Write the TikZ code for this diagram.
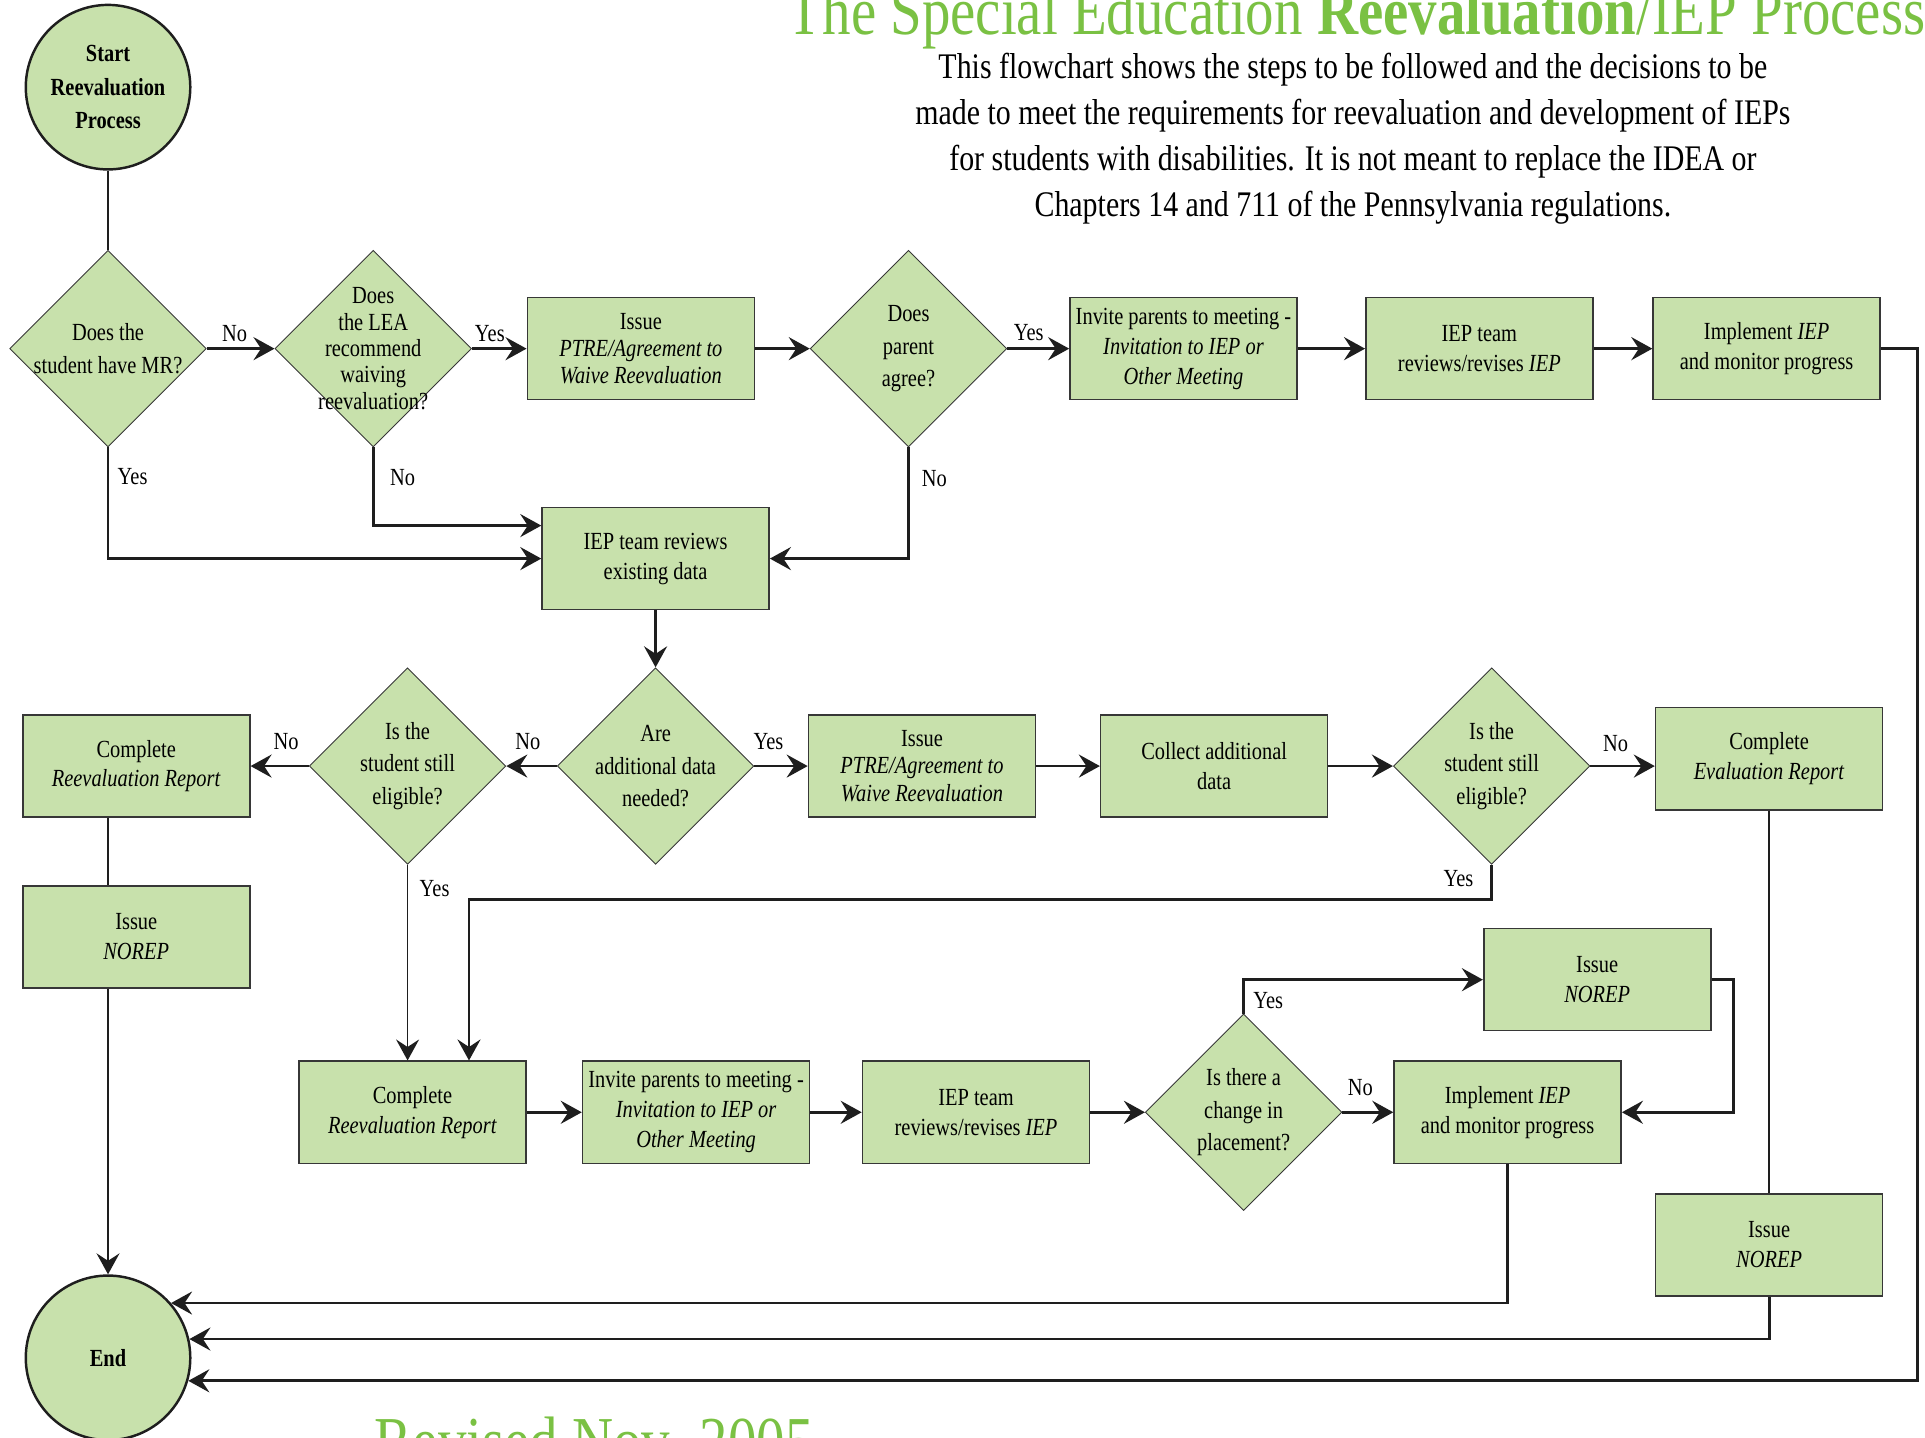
\documentclass[tikz,border=0pt]{standalone}
\usepackage{fontspec}
\setmainfont{Liberation Serif}[FakeStretch=0.83]
\usetikzlibrary{shapes.geometric,arrows.meta}

\begin{document}
\begin{tikzpicture}[x=0.024554cm,y=-0.024554cm,
  box/.style={draw=box edge, fill=box area, line width=0.9pt, minimum width=4.54cm, minimum height=2.04cm, align=center, inner sep=1pt, font=\fontsize{14}{17}\selectfont},
  decision/.style={diamond, draw=box edge, fill=box area, line width=0.5pt, minimum width=3.93cm, minimum height=3.93cm, inner sep=-12pt, align=center, font=\fontsize{14}{18.5}\selectfont},
  terminal/.style={circle, draw=line col, fill=box area, line width=1.4pt, minimum size=3.29cm, inner sep=0pt, align=center, font=\fontsize{14}{19}\selectfont\bfseries},
  link/.style={draw=line col, line width=1.6pt},
  thinlink/.style={draw=line col, line width=0.9pt},
  tip/.style={-{Stealth[length=4.2mm,width=4.6mm,inset=1.5mm]}},
  answer/.style={font=\fontsize{14}{17}\selectfont, inner sep=1pt},
  heading/.style={text=title green, inner sep=0pt, font=\fontsize{39}{43}\selectfont}]
\definecolor{box area}{RGB}{200,225,172}
\definecolor{box edge}{RGB}{55,55,55}
\definecolor{line col}{RGB}{30,30,30}
\definecolor{title green}{RGB}{122,193,67}
\useasboundingbox (0,0) rectangle (1568,1171);

\node[heading, anchor=base] (title) at (1105,28) {The Special Education \textbf{Reevaluation}/IEP Process};
\node[align=center, inner sep=0pt, font=\fontsize{20.5}{26}\selectfont] (intro) at (1102,113)
  {This flowchart shows the steps to be followed and the decisions to be\\
   made to meet the requirements for reevaluation and development of IEPs\\
   for students with disabilities. It is not meant to replace the IDEA or\\
   Chapters 14 and 711 of the Pennsylvania regulations.};
\node[heading, anchor=base west] (revised) at (305,1193) {Revised Nov. 2005};

\node[terminal] (start) at (88,71) {Start\\Reevaluation\\Process};
\node[decision] (d1) at (88,284) {Does the\\student have MR?};
\node[decision, font=\fontsize{14}{15}\selectfont] (d2) at (304,284) {Does\\the LEA\\recommend\\waiving\\reevaluation?};
\node[box, font=\fontsize{14}{15.5}\selectfont] (b1) at (522,284) {Issue\\\textit{PTRE/Agreement to}\\\textit{Waive Reevaluation}};
\node[decision] (d3) at (740,284) {Does\\parent\\agree?};
\node[box] (b2) at (964,284) {Invite parents to meeting -\\\textit{Invitation to IEP or}\\\textit{Other Meeting}};
\node[box] (b3) at (1205,284) {IEP team\\reviews/revises \textit{IEP}};
\node[box] (b4) at (1439,284) {Implement \textit{IEP}\\and monitor progress};
\node[box] (b5) at (534,455) {IEP team reviews\\existing data};

\node[decision] (d4) at (534,624) {Are\\additional data\\needed?};
\node[decision] (d5) at (332,624) {Is the\\student still\\eligible?};
\node[box] (b6) at (111,624) {Complete\\\textit{Reevaluation Report}};
\node[box, font=\fontsize{14}{15.5}\selectfont] (b7) at (751,624) {Issue\\\textit{PTRE/Agreement to}\\\textit{Waive Reevaluation}};
\node[box] (b8) at (989,624) {Collect additional\\data};
\node[decision] (d6) at (1215,624) {Is the\\student still\\eligible?};
\node[box] (b9) at (1441,618) {Complete\\\textit{Evaluation Report}};
\node[box] (b10) at (111,763) {Issue\\\textit{NOREP}};

\node[box] (b15) at (1301,798) {Issue\\\textit{NOREP}};
\node[box] (b11) at (336,906) {Complete\\\textit{Reevaluation Report}};
\node[box] (b12) at (567,906) {Invite parents to meeting -\\\textit{Invitation to IEP or}\\\textit{Other Meeting}};
\node[box] (b13) at (795,906) {IEP team\\reviews/revises \textit{IEP}};
\node[decision] (d7) at (1013,906) {Is there a\\change in\\placement?};
\node[box] (b14) at (1228,906) {Implement \textit{IEP}\\and monitor progress};
\node[box] (b16) at (1441,1014) {Issue\\\textit{NOREP}};
\node[terminal] (stop) at (88,1106) {End};

\draw[thinlink] (start) -- (d1);
\draw[link,tip] (d1) -- (d2);
\draw[link,tip] (d2) -- (b1);
\draw[link,tip] (b1) -- (d3);
\draw[link,tip] (d3) -- (b2);
\draw[link,tip] (b2) -- (b3);
\draw[link,tip] (b3) -- (b4);
\draw[link,tip] (d1.south) |- (b5.west);
\draw[link,tip] (d2.south) |- ([yshift=0.66cm]b5.west);
\draw[link,tip] (d3.south) |- (b5.east);
\draw[link,tip] (b5) -- (d4);
\draw[link,tip] (d4) -- (d5);
\draw[link,tip] (d5) -- (b6);
\draw[link,tip] (d4) -- (b7);
\draw[link,tip] (b7) -- (b8);
\draw[link,tip] (b8) -- (d6);
\draw[link,tip] (d6.east) -- (d6.east -| b9.west);
\draw[thinlink] (b6.south -| stop) -- (b10.north -| stop);
\draw[thinlink,tip] (b10.south -| stop) -- (stop);
\draw[thinlink,tip] (d5.south) -- (d5.south |- b11.north);
\draw[link,tip] (d6.south) -- ++(0,28) -| ([xshift=1.13cm]b11.north);
\draw[link,tip] (b11) -- (b12);
\draw[link,tip] (b12) -- (b13);
\draw[link,tip] (b13) -- (d7);
\draw[link,tip] (d7) -- (b14);
\draw[link,tip] (d7.north) |- (b15.west);
\draw[link,tip] (b15.east) -- ++(18,0) |- (b14.east);
\draw[thinlink] (b9) -- (b16);
\draw[link,tip] (b14.south) |- (stop.41);
\draw[link,tip] (b16.south) |- (stop.13);
\draw[link,tip] (b4.east) -- ++(30,0) |- (stop.-16);

\node[answer] (a1) at (191,272) {No};
\node[answer] (a2) at (399,272) {Yes};
\node[answer] (a3) at (838,271) {Yes};
\node[answer] (a4) at (108,388) {Yes};
\node[answer] (a5) at (328,389) {No};
\node[answer] (a6) at (761,390) {No};
\node[answer] (a7) at (430,604) {No};
\node[answer] (a8) at (233,604) {No};
\node[answer] (a9) at (626,604) {Yes};
\node[answer] (a10) at (1316,606) {No};
\node[answer] (a11) at (354,724) {Yes};
\node[answer] (a12) at (1188,716) {Yes};
\node[answer] (a13) at (1033,815) {Yes};
\node[answer] (a14) at (1108,886) {No};
\end{tikzpicture}
\end{document}
